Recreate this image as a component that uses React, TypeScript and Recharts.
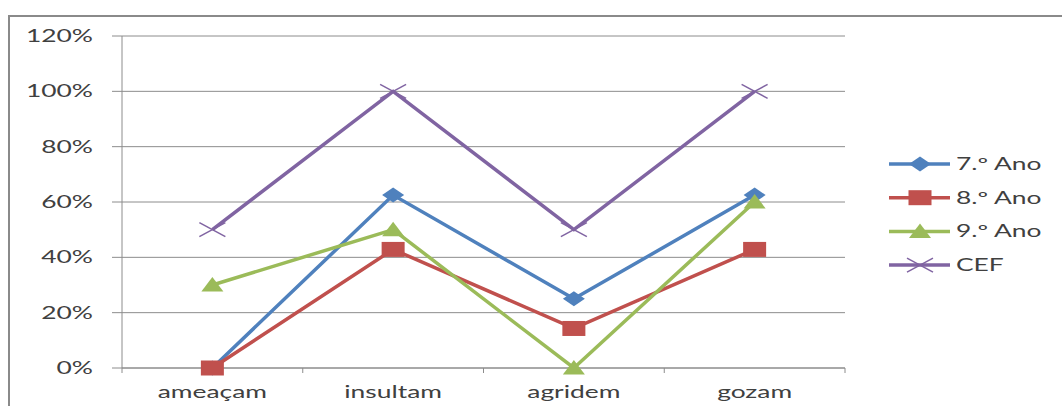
import React from "react";
import { LineChart, Line, XAxis, YAxis, CartesianGrid, Legend } from "recharts";

const categories = ["ameaçam", "insultam", "agridem", "gozam"];
const ano7 = [0, 62.5, 25, 62.5];
const ano8 = [0, 42.86, 14.29, 42.86];
const ano9 = [30, 50, 0, 60];
const cef = [50, 100, 50, 100];
const yTicks = [0, 20, 40, 60, 80, 100, 120];

const seriesNames = { a7: "7.º Ano", a8: "8.º Ano", a9: "9.º Ano", cef: "CEF" };
const colors = { a7: "#4F81BD", a8: "#C0504D", a9: "#9BBB59", cef: "#8064A2" };

const data = categories.map((c, i) => ({
  cat: c,
  a7: ano7[i],
  a8: ano8[i],
  a9: ano9[i],
  cef: cef[i],
}));

const FONT = "Lato, 'Open Sans', sans-serif";
const TXT = "#404040";
const GRID = "#8c8c8c";
const SX = 1.6;

function marker(kind: string, cx: number, cy: number, color: string, key?: any) {
  if (kind === "a7") {
    return (
      <polygon key={key} points={`${cx},${cy - 7.5} ${cx + 11},${cy} ${cx},${cy + 7.5} ${cx - 11},${cy}`} fill={color} />
    );
  }
  if (kind === "a8") {
    return <rect key={key} x={cx - 11.5} y={cy - 7.5} width={23} height={15} fill={color} />;
  }
  if (kind === "a9") {
    return <polygon key={key} points={`${cx},${cy - 8} ${cx + 11},${cy + 6.5} ${cx - 11},${cy + 6.5}`} fill={color} />;
  }
  return (
    <g key={key}>
      <line x1={cx - 13} y1={cy - 7} x2={cx + 13} y2={cy + 7} stroke={color} strokeWidth={1.5} />
      <line x1={cx - 13} y1={cy + 7} x2={cx + 13} y2={cy - 7} stroke={color} strokeWidth={1.5} />
    </g>
  );
}

const makeDot = (kind: string) => (props: any) => {
  const { cx, cy, index } = props;
  return marker(kind, cx, cy, (colors as any)[kind], `${kind}-${index}`);
};

const YTick = (props: any) => {
  const { x, y, payload } = props;
  return (
    <g transform={`translate(${x},${y}) scale(${SX},1)`}>
      <text x={0} y={6} textAnchor="end" fontFamily={FONT} fontSize={16.5} fill={TXT}>
        {`${payload.value}%`}
      </text>
    </g>
  );
};

const XTick = (props: any) => {
  const { x, y, payload, index } = props;
  const off = payload.offset || 90.4;
  return (
    <g>
      <line x1={x - off} y1={y - 5} x2={x - off} y2={y} stroke={GRID} strokeWidth={1} />
      {index === categories.length - 1 && (
        <line x1={x + off} y1={y - 5} x2={x + off} y2={y} stroke={GRID} strokeWidth={1} />
      )}
      <g transform={`translate(${x},${y + 25}) scale(${SX},1)`}>
        <text x={0} y={0} textAnchor="middle" fontFamily={FONT} fontSize={16.5} fill={TXT}>
          {payload.value}
        </text>
      </g>
    </g>
  );
};

const LegendContent = (props: any) => {
  const { payload } = props;
  return (
    <svg width={180} height={140}>
      {(payload || []).map((p: any, i: number) => {
        const key = p.dataKey as string;
        const cy = 14 + i * 33.7;
        const color = (colors as any)[key];
        return (
          <g key={key}>
            <line x1={9} y1={cy} x2={70} y2={cy} stroke={color} strokeWidth={3.5} />
            {marker(key, 40, cy, color)}
            <g transform={`translate(76,${cy + 6}) scale(${SX},1)`}>
              <text x={0} y={0} fontFamily={FONT} fontSize={16.5} fill={TXT}>
                {(seriesNames as any)[key]}
              </text>
            </g>
          </g>
        );
      })}
    </svg>
  );
};

export default function App() {
  return (
    <div style={{ position: "absolute", left: 0, top: 0, width: 1062, height: 406, overflow: "hidden", background: "#fff" }}>
      <div
        style={{
          position: "absolute",
          left: 8,
          top: 15,
          width: 1100,
          height: 450,
          borderTop: "2px solid #8a8a8a",
          borderLeft: "2px solid #8a8a8a",
        }}
      />
      <div style={{ position: "absolute", left: 0, top: 0 }}>
        <LineChart width={1062} height={406} data={data} margin={{ top: 36, right: 217, bottom: 0, left: 0 }}>
          <CartesianGrid vertical={false} stroke={GRID} strokeWidth={1} />
          <XAxis
            dataKey="cat"
            scale="band"
            height={38}
            tickLine={false}
            tickSize={5}
            tickMargin={0}
            axisLine={{ stroke: GRID, strokeWidth: 1 }}
            tick={<XTick />}
            interval={0}
          />
          <YAxis
            width={122}
            domain={[0, 120]}
            ticks={yTicks}
            interval={0}
            tickSize={10}
            tickMargin={19}
            tickLine={{ stroke: GRID, strokeWidth: 1 }}
            axisLine={{ stroke: GRID, strokeWidth: 1 }}
            tick={<YTick />}
          />
          <Legend
            layout="vertical"
            align="center"
            verticalAlign="middle"
            wrapperStyle={{ left: 880, top: 150, width: 180, height: 140 }}
            content={<LegendContent />}
          />
          <Line dataKey="a7" name={seriesNames.a7} stroke={colors.a7} strokeWidth={3.5} dot={makeDot("a7")} isAnimationActive={false} />
          <Line dataKey="a8" name={seriesNames.a8} stroke={colors.a8} strokeWidth={3.5} dot={makeDot("a8")} isAnimationActive={false} />
          <Line dataKey="a9" name={seriesNames.a9} stroke={colors.a9} strokeWidth={3.5} dot={makeDot("a9")} isAnimationActive={false} />
          <Line dataKey="cef" name={seriesNames.cef} stroke={colors.cef} strokeWidth={3.5} dot={makeDot("cef")} isAnimationActive={false} />
        </LineChart>
      </div>
    </div>
  );
}
